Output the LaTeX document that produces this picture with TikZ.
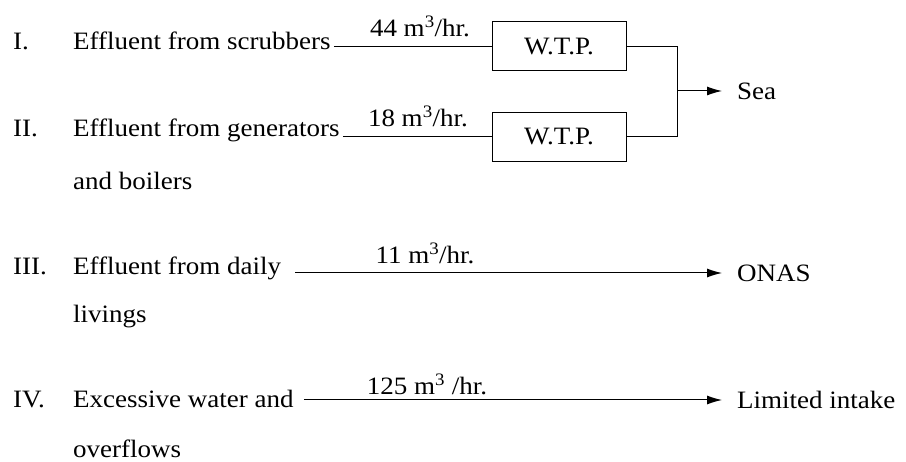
\documentclass[tikz,border=0pt]{standalone}
\usepackage{fontspec}
\setmainfont[FakeStretch=1.08]{Liberation Serif}
\usetikzlibrary{arrows.meta}
\begin{document}
\begin{tikzpicture}[x=1pt,y=-1pt,
  every node/.style={font=\fontsize{25}{30}\selectfont, inner sep=0pt},
  txt/.style={anchor=base west},
  rate/.style={anchor=base},
  dest/.style={anchor=west, inner xsep=15pt},
  wtp/.style={draw, line width=1pt, minimum width=134pt, minimum height=49pt},
  flow/.style={line width=1pt},
  arr/.style={line width=1pt, -{Latex[length=15pt,width=9pt]}}]
\useasboundingbox (0,0) rectangle (906,462);
% numerals
\node[txt] (n1) at (13,50) {I.};
\node[txt] (n2) at (13,137) {II.};
\node[txt] (n3) at (13,275) {III.};
\node[txt] (n4) at (13,408) {IV.};
% texts
\node[txt] (t1) at (73,50) {Effluent from scrubbers};
\node[txt] (t2) at (73,137) {Effluent from generators};
\node[txt] (t2b) at (73,190) {and boilers};
\node[txt] (t3) at (73,275) {Effluent from daily};
\node[txt] (t3b) at (73,323) {livings};
\node[txt] (t4) at (73,408) {Excessive water and};
\node[txt] (t4b) at (73,458) {overflows};
% boxes
\node[wtp] (b1) at (559,46.5) {W.T.P.};
\node[wtp] (b2) at (559,137) {W.T.P.};
% destinations
\node[dest] (sea) at (722,91) {Sea};
\node[dest] (onas) at (722,273) {ONAS};
\node[dest] (lim) at (722,400) {Limited intake};
\coordinate (j) at (677,91);
% rates
\node[rate] (r1) at (420,37) {44 m\textsuperscript{3}/hr.};
\node[rate] (r2) at (418,127) {18 m\textsuperscript{3}/hr.};
\node[rate] (r3) at (425,264) {11 m\textsuperscript{3}/hr.};
\node[rate] (r4) at (427,395) {125 m\textsuperscript{3} /hr.};
% connectors
\draw[flow] ([xshift=3pt]t1.east |- b1.west) -- (b1.west);
\draw[flow] ([xshift=3pt]t2.east |- b2.west) -- (b2.west);
\draw[flow] (b1.east) -- (b1.east -| j) -- (b2.east -| j) -- (b2.east);
\draw[arr] (j) -- (sea.west);
\draw[arr] ([xshift=14pt]t3.east |- onas.west) -- (onas.west);
\draw[arr] ([xshift=10pt]t4.east |- lim.west) -- (lim.west);
\end{tikzpicture}
\end{document}
